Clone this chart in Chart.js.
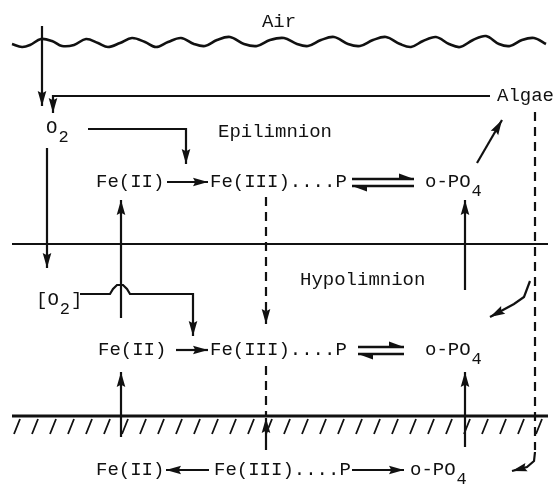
<!DOCTYPE html>
<html>
<head>
<meta charset="utf-8">
<script src="https://cdn.jsdelivr.net/npm/chart.js@4.4.0/dist/chart.umd.min.js"></script>
<style>
  html, body { margin: 0; padding: 0; background: #fff; }
</style>
</head>
<body>
<canvas id="lake" width="558" height="484"></canvas>
<script>
// air / water surface
const surfaceWave = [[12,44],[22,47],[30,45],[41,39],[52,41],[62,46],[74,45],[86,39],[98,43],[108,47],[120,43],[132,38],[145,42],[156,47],[168,42],[181,38],[194,44],[205,46],[217,40],[230,37],[244,44],[257,46],[270,40],[284,38],[297,44],[308,46],[321,40],[334,37],[348,44],[360,46],[373,40],[386,37],[400,44],[411,47],[423,41],[436,37],[449,44],[460,47],[473,40],[486,36],[499,44],[510,46],[522,40],[534,38],[546,44]];
const thermocline = [[12,244],[548,244]];
const sediment = [[12,416],[548,416]];
const hatchX = [20,38,56,74,92,110,128,146,164,182,200,218,236,254,272,290,308,326,344,362,380,398,416,434,452,470,488,506,524,542];

// solid arrows (last point = head)
const airToO2 = [[42,26],[42,106]];
const algaeToO2 = [[490,96],[53,96],[53,113]];
const o2ToOxid = [[88,129],[186,129],[186,164]];
const o2Down = [[47,148],[47,268]];
const fe2UpEpi = [[121,318],[121,200]];
const o2bToOxid = [[80,294],[110,294],[113,289],[117,285],[123,285],[127,289],[130,294],[193,294],[193,336]];
const po4UpEpi = [[465,290],[465,200]];
const po4ToAlgae = [[477,163],[502,120]];
const algaeSink = [[530,281],[524,297],[514,304],[490,317]];
const fe2UpHypo = [[121,437],[121,372]];
const po4UpHypo = [[465,447],[465,372]];
const feIIIUpSed = [[266,450],[266,418]];
const algaeSed = [[535,452],[534,461],[527,467],[512,471]];
const oxidEpi = [[167,182],[208,182]];
const oxidHypo = [[176,350],[208,350]];
const reduceSed = [[209,470],[166,470]];
const releaseSed = [[352,470],[404,470]];
// equilibrium harpoons
const eqEpi = [[[352,179],[414,179]],[[414,186],[352,186]]];
const eqHypo = [[[358,347],[404,347]],[[404,354],[358,354]]];
// dashed settling paths
const settleEpi = [[266,197],[266,324]];
const settleHypo = [[266,366],[266,416]];
const algaeSettle = [[535,112],[535,450]];

// text
const labels = [
  {t:'Air', x:279, y:22, c:true},
  {t:'Algae', x:497, y:96},
  {t:'O', x:46, y:128, sub:'2'},
  {t:'Epilimnion', x:218, y:132},
  {t:'Fe(II)', x:96, y:182},
  {t:'Fe(III)....P', x:210, y:182},
  {t:'o-PO', x:425, y:182, sub:'4'},
  {t:'Hypolimnion', x:300, y:280},
  {t:'[O', x:36, y:300, sub:'2', after:']'},
  {t:'Fe(II)', x:98, y:350},
  {t:'Fe(III)....P', x:210, y:350},
  {t:'o-PO', x:425, y:350, sub:'4'},
  {t:'Fe(II)', x:96, y:470},
  {t:'Fe(III)....P', x:214, y:470},
  {t:'o-PO', x:410, y:470, sub:'4'}
];

const ink = '#111';
const pts = a => a.map(p => ({x: p[0], y: p[1]}));
const datasets = [];
function line(a, o) {
  datasets.push(Object.assign({
    data: pts(a), showLine: true, pointRadius: 0, borderColor: ink,
    borderWidth: 2.2, fill: false, tension: 0
  }, o || {}));
}
line(surfaceWave, {tension: 0.35, borderWidth: 2.6});
line(thermocline, {borderWidth: 2});
line(sediment, {borderWidth: 2.8});
hatchX.forEach(x => line([[x,419],[x-6,434]], {borderWidth: 1.8}));
[airToO2, algaeToO2, o2ToOxid, o2Down, fe2UpEpi, o2bToOxid, po4UpEpi, po4ToAlgae,
 algaeSink, fe2UpHypo, po4UpHypo, feIIIUpSed, algaeSed, oxidEpi, oxidHypo,
 reduceSed, releaseSed].forEach(a => line(a, {head: 'full'}));
eqEpi.concat(eqHypo).forEach(a => line(a, {head: 'half', borderWidth: 2.4}));
line(settleEpi, {borderDash: [9, 6], head: 'full'});
line(settleHypo, {borderDash: [9, 6]});
line(algaeSettle, {borderDash: [9, 6]});

const arrowHeads = {
  id: 'arrowHeads',
  afterDatasetsDraw(chart) {
    const ctx = chart.ctx;
    chart.data.datasets.forEach((ds, i) => {
      if (!ds.head) return;
      const el = chart.getDatasetMeta(i).data;
      const a = el[el.length - 2], b = el[el.length - 1];
      let dx = b.x - a.x, dy = b.y - a.y;
      const len = Math.hypot(dx, dy);
      dx /= len; dy /= len;
      const L = 15, W = 4.3, px = -dy, py = dx;
      ctx.save();
      ctx.fillStyle = ink;
      ctx.beginPath();
      ctx.moveTo(b.x, b.y);
      if (ds.head === 'full') {
        ctx.lineTo(b.x - L * dx + W * px, b.y - L * dy + W * py);
        ctx.lineTo(b.x - 0.85 * L * dx, b.y - 0.85 * L * dy);
        ctx.lineTo(b.x - L * dx - W * px, b.y - L * dy - W * py);
      } else {
        ctx.lineTo(b.x - L * dx - 1.3 * W * px, b.y - L * dy - 1.3 * W * py);
        ctx.lineTo(b.x - L * dx, b.y - L * dy);
      }
      ctx.closePath();
      ctx.fill();
      ctx.restore();
    });
  }
};

const textLabels = {
  id: 'textLabels',
  afterDraw(chart) {
    const ctx = chart.ctx, sx = chart.scales.x, sy = chart.scales.y;
    ctx.save();
    ctx.fillStyle = ink;
    ctx.textBaseline = 'middle';
    labels.forEach(l => {
      ctx.font = '19px "Liberation Mono", monospace';
      let x = sx.getPixelForValue(l.x), y = sy.getPixelForValue(l.y);
      const w = ctx.measureText(l.t).width;
      if (l.c) x -= w / 2;
      ctx.fillText(l.t, x, y);
      if (l.sub) {
        ctx.font = '17px "Liberation Mono", monospace';
        ctx.fillText(l.sub, x + w + 1, y + 9);
        if (l.after) {
          const sw = ctx.measureText(l.sub).width;
          ctx.font = '19px "Liberation Mono", monospace';
          ctx.fillText(l.after, x + w + sw + 2, y);
        }
      }
    });
    ctx.restore();
  }
};

new Chart(document.getElementById('lake').getContext('2d'), {
  type: 'scatter',
  data: { datasets: datasets },
  options: {
    responsive: false,
    animation: false,
    events: [],
    layout: { padding: 0 },
    plugins: { legend: { display: false }, tooltip: { enabled: false } },
    scales: {
      x: { type: 'linear', min: 0, max: 558, display: false },
      y: { type: 'linear', min: 0, max: 484, reverse: true, display: false }
    }
  },
  plugins: [arrowHeads, textLabels]
});
</script>
</body>
</html>
